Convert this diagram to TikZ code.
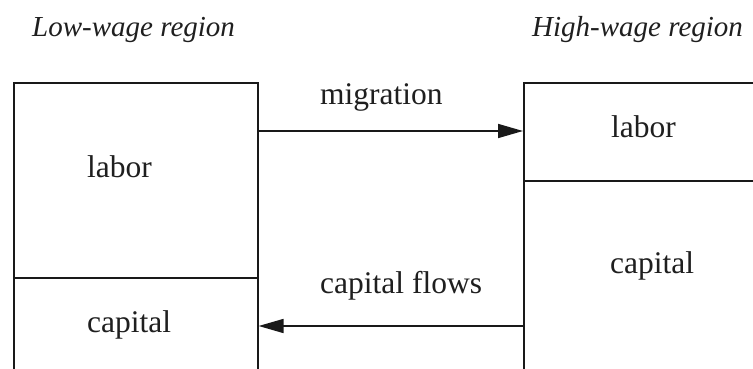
\documentclass[tikz,border=0pt]{standalone}
\usepackage{fontspec}
\setmainfont{Liberation Serif}
\usetikzlibrary{arrows.meta}
\begin{document}
\begin{tikzpicture}[x=1pt,y=-1pt,
  part/.style={draw=black!90, line width=1.6pt, inner sep=0pt, anchor=north west},
  lbl/.style={inner sep=0pt, anchor=base west, font=\fontsize{31.5}{34}\selectfont, text=black!88},
  head/.style={inner sep=0pt, anchor=base west, font=\fontsize{29}{32}\selectfont\itshape, text=black!88},
  flow/.style={draw=black!90, line width=1.6pt, -{Triangle[length=25pt,width=14pt]}}]
\clip (0,0) rectangle (753,369);
\fill[white] (0,0) rectangle (753,369);
% boxes
\node[part, minimum width=244pt, minimum height=195pt] (Llab) at (13,82) {};
\node[part, minimum width=244pt, minimum height=150pt] (Lcap) at (13,277) {};
\node[part, minimum width=260pt, minimum height=98pt] (Rlab) at (523,82) {};
\node[part, minimum width=260pt, minimum height=220pt] (Rcap) at (523,180) {};
% texts
\node[head] (hl) at (32,37) {Low-wage region};
\node[head] (hr) at (532,37) {High-wage region};
\node[lbl] (tLlab) at (87,177) {labor};
\node[lbl] (tLcap) at (87,332) {capital};
\node[lbl] (tRlab) at (611,137) {labor};
\node[lbl] (tRcap) at (610,273) {capital};
\node[lbl] (tmig) at (320,105) {migration};
\node[lbl] (tcf) at (320,293) {capital flows};
% arrows
\coordinate (m1) at (257,131);
\coordinate (m2) at (523,131);
\coordinate (c1) at (523,326);
\coordinate (c2) at (257,326);
\draw[flow] (Llab.east |- m1) -- (Rlab.west |- m2);
\draw[flow] (Rcap.west |- c1) -- (Lcap.east |- c2);
\end{tikzpicture}
\end{document}
